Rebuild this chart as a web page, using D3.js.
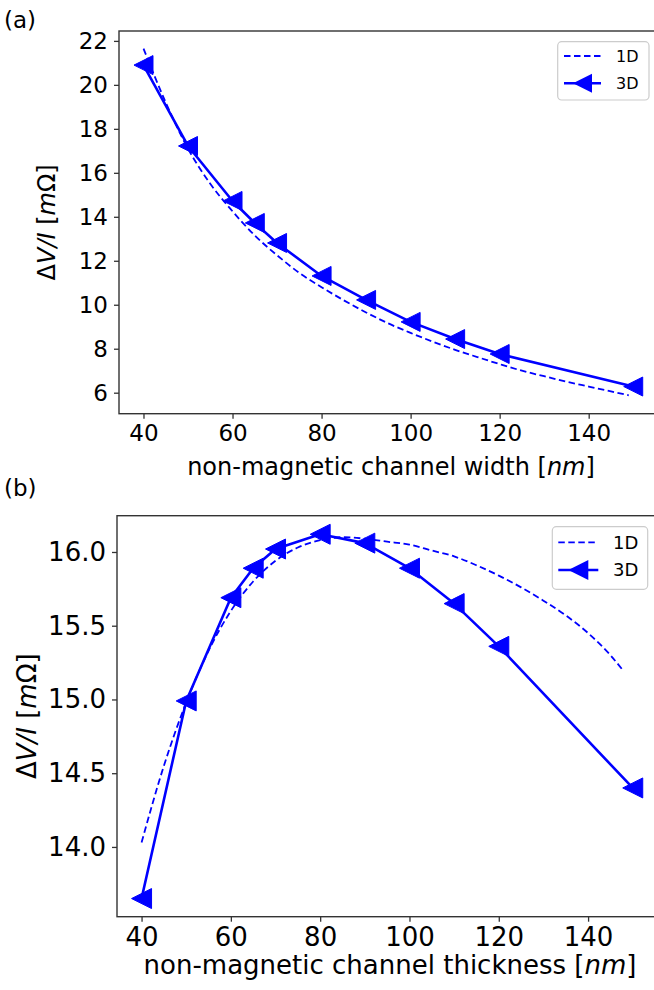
<!DOCTYPE html>
<html>
<head>
<meta charset="utf-8">
<script src="https://cdn.jsdelivr.net/npm/d3@7"></script>
<style>
  html, body { margin: 0; padding: 0; background: #fff; }
  svg { display: block; }
  text { font-family: "DejaVu Sans", sans-serif; fill: #000; }
</style>
</head>
<body>
<svg id="chart" width="654" height="990"></svg>
<script>
// ---------- data ----------
// Panel (a): channel width
const widthX3D = [40, 50, 60, 65, 70, 80, 90, 100, 110, 120, 150];
const widthV3D = [20.9, 17.22, 14.72, 13.72, 12.81, 11.31, 10.22, 9.22, 8.44, 7.76, 6.28];
const widthX1D = [40, 45, 50, 55, 60, 65, 70, 75, 80, 85, 90, 95, 100, 105, 110, 115, 120, 125, 130, 135, 140, 145, 149];
const widthV1D = [21.65, 19.2, 17.1, 15.5, 14.25, 13.15, 12.25, 11.45, 10.8, 10.2, 9.65, 9.15, 8.72, 8.32, 7.95, 7.62, 7.3, 7.0, 6.75, 6.5, 6.28, 6.06, 5.88];
// Panel (b): channel thickness
const thickX3D = [40, 50, 60, 65, 70, 80, 90, 100, 110, 120, 150];
const thickV3D = [13.65, 14.99, 15.69, 15.89, 16.02, 16.12, 16.06, 15.89, 15.65, 15.36, 14.40];
const thickX1D = [40, 45, 50, 55, 60, 65, 70, 75, 80, 85, 90, 95, 100, 105, 110, 115, 120, 125, 130, 135, 140, 145, 148];
const thickV1D = [14.03, 14.55, 14.98, 15.33, 15.6, 15.8, 15.94, 16.03, 16.08, 16.1, 16.09, 16.07, 16.05, 16.01, 15.97, 15.91, 15.84, 15.76, 15.67, 15.57, 15.45, 15.30, 15.19];
// ticks
const xTicks = [40, 60, 80, 100, 120, 140];
const yTicksA = [6, 8, 10, 12, 14, 16, 18, 20, 22];
const yTicksB = [14.0, 14.5, 15.0, 15.5, 16.0];
const seriesNames = ["1D", "3D"];

const BLUE = "#0000ff";
const svg = d3.select("#chart");

function trianglePath(s) {
  return `M${-s},0L${s},${-s}L${s},${s}Z`;
}

function panel(cfg) {
  const x = d3.scaleLinear().domain(cfg.xDomain).range([cfg.left, cfg.right]);
  const y = d3.scaleLinear().domain(cfg.yDomain).range([cfg.bottom, cfg.top]);
  const g = svg.append("g");

  // axes
  const xAxis = d3.axisBottom(x).tickValues(xTicks).tickSize(5).tickPadding(6).tickFormat(d3.format("d"));
  const yAxis = d3.axisLeft(y).tickValues(cfg.yTicks).tickSize(5).tickPadding(6).tickFormat(cfg.yFormat);

  const gx = g.append("g").attr("transform", `translate(0,${cfg.bottom})`).call(xAxis);
  const gy = g.append("g").attr("transform", `translate(${cfg.left},0)`).call(yAxis);
  [gx, gy].forEach(a => {
    a.select(".domain").remove();
    a.selectAll(".tick line").attr("stroke", "#333").attr("stroke-width", 1.3);
    a.selectAll(".tick text").style("font-family", "DejaVu Sans").style("font-size", cfg.fs + "px").attr("fill", "#000");
  });
  // frame
  g.append("rect")
    .attr("x", cfg.left).attr("y", cfg.top)
    .attr("width", cfg.right - cfg.left).attr("height", cfg.bottom - cfg.top)
    .attr("fill", "none").attr("stroke", "#333").attr("stroke-width", 1.4);

  const plot = g.append("g");

  // 1D dashed curve
  const d1 = cfg.x1D.map((v, i) => [v, cfg.v1D[i]]);
  plot.append("path")
    .attr("d", d3.line().x(d => x(d[0])).y(d => y(d[1])).curve(d3.curveMonotoneX)(d1))
    .attr("fill", "none").attr("stroke", BLUE).attr("stroke-width", 1.8)
    .attr("stroke-dasharray", "6.5,3.5");

  // 3D solid line + markers
  const d3d = cfg.x3D.map((v, i) => [v, cfg.v3D[i]]);
  plot.append("path")
    .attr("d", d3.line().x(d => x(d[0])).y(d => y(d[1]))(d3d))
    .attr("fill", "none").attr("stroke", BLUE).attr("stroke-width", 2.6).attr("stroke-linejoin", "round");
  plot.selectAll(".mk").data(d3d).enter().append("path")
    .attr("d", trianglePath(cfg.ms))
    .attr("transform", d => `translate(${x(d[0])},${y(d[1])})`)
    .attr("fill", BLUE).attr("stroke", BLUE).attr("stroke-width", 1);

  // legend
  const L = cfg.legend;
  const lg = g.append("g");
  lg.append("rect").attr("x", L.x0).attr("y", L.y0).attr("width", L.x1 - L.x0).attr("height", L.y1 - L.y0)
    .attr("rx", 4).attr("fill", "#fff").attr("fill-opacity", 0.8).attr("stroke", "#cccccc").attr("stroke-width", 1.2);
  lg.append("line").attr("x1", L.lx0).attr("x2", L.lx1).attr("y1", L.ys[0]).attr("y2", L.ys[0])
    .attr("stroke", BLUE).attr("stroke-width", 1.8).attr("stroke-dasharray", "6.5,3.5");
  lg.append("line").attr("x1", L.lx0).attr("x2", L.lx1).attr("y1", L.ys[1]).attr("y2", L.ys[1])
    .attr("stroke", BLUE).attr("stroke-width", 2.6);
  lg.append("path").attr("d", trianglePath(cfg.ms))
    .attr("transform", `translate(${(L.lx0 + L.lx1) / 2},${L.ys[1]})`).attr("fill", BLUE);
  seriesNames.forEach((n, i) => {
    lg.append("text").attr("x", L.tx).attr("y", L.ys[i]).attr("dy", "0.36em")
      .style("font-size", L.fs + "px").text(n);
  });

  // x label
  const xl = g.append("text").attr("x", cfg.xlabX).attr("y", cfg.xlabY)
    .attr("text-anchor", "middle").style("font-size", cfg.lfs + "px");
  xl.append("tspan").text(cfg.xlabel + " [");
  xl.append("tspan").style("font-style", "italic").text("nm");
  xl.append("tspan").text("]");

  // y label
  const yl = g.append("text")
    .attr("transform", `translate(${cfg.ylabX},${(cfg.top + cfg.bottom) / 2}) rotate(-90)`)
    .attr("text-anchor", "middle").style("font-size", cfg.lfs + "px");
  yl.append("tspan").text("Δ");
  yl.append("tspan").style("font-style", "italic").text("V/I");
  yl.append("tspan").text(" [");
  yl.append("tspan").style("font-style", "italic").text("m");
  yl.append("tspan").text("Ω]");

  // panel tag
  g.append("text").attr("x", cfg.tagX).attr("y", cfg.tagY).style("font-size", cfg.tagFs + "px").text(cfg.tag);
}

panel({
  id: "a", tag: "(a)", tagX: 4, tagY: 28, tagFs: 23,
  left: 119, right: 657.7, top: 31, bottom: 413.7,
  xDomain: [34.5, 155.5], yDomain: [5.045, 22.45],
  yTicks: yTicksA, yFormat: d3.format("d"),
  x1D: widthX1D, v1D: widthV1D, x3D: widthX3D, v3D: widthV3D,
  fs: 23, lfs: 24, ms: 9.5,
  xlabel: "non-magnetic channel width", xlabX: 391, xlabY: 475, ylabX: 55,
  legend: { x0: 557.7, x1: 649, y0: 41.7, y1: 100, lx0: 564, lx1: 601, tx: 616, ys: [56, 83.3], fs: 16 }
});

panel({
  id: "b", tag: "(b)", tagX: 4, tagY: 496, tagFs: 23,
  left: 117, right: 657.3, top: 515.7, bottom: 916.7,
  xDomain: [34.5, 155.5], yDomain: [13.527, 16.246],
  yTicks: yTicksB, yFormat: d3.format(".1f"),
  x1D: thickX1D, v1D: thickV1D, x3D: thickX3D, v3D: thickV3D,
  fs: 26, lfs: 26, ms: 10,
  xlabel: "non-magnetic channel thickness", xlabX: 390, xlabY: 974, ylabX: 36,
  legend: { x0: 552.3, x1: 647.7, y0: 526.7, y1: 589.3, lx0: 558.3, lx1: 598.3, tx: 613, ys: [542.3, 570], fs: 18 }
});
</script>
</body>
</html>
